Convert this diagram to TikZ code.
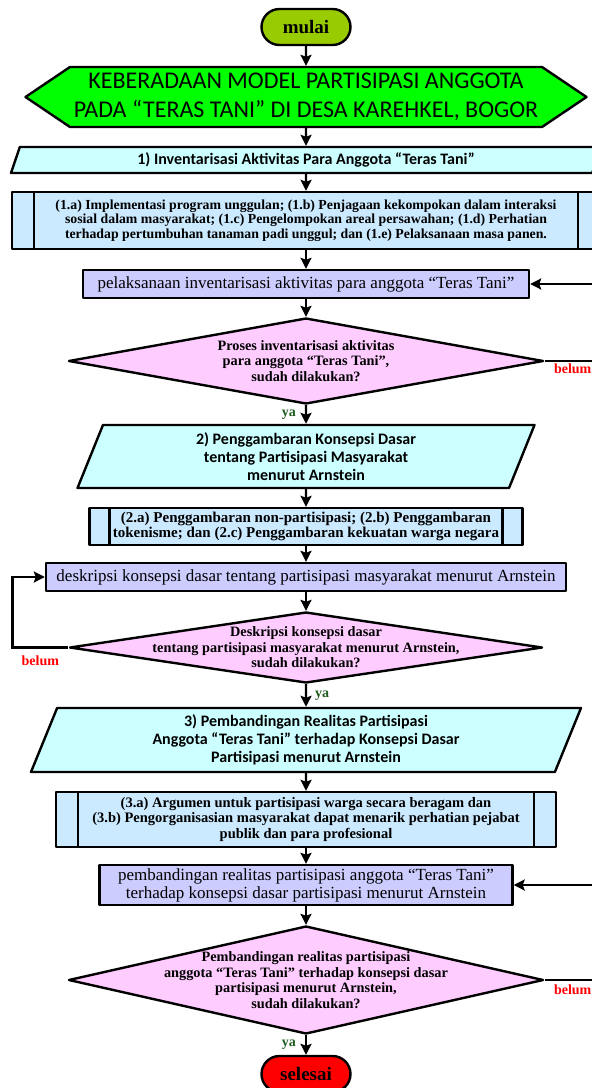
\documentclass[tikz,border=0pt]{standalone}
\usepackage{fontspec}
\setmainfont{Liberation Serif}
\newfontfamily\calibri{Carlito}
\usetikzlibrary{shapes.geometric, shapes.symbols, arrows.meta}
\definecolor{mulaihijau}{HTML}{99CC00}
\definecolor{judulhijau}{HTML}{00FF00}
\definecolor{langkahbiru}{HTML}{CCFFFF}
\definecolor{subbiru}{HTML}{CCEAFF}
\definecolor{prosesungu}{HTML}{CCCCFF}
\definecolor{tanyamerah}{HTML}{FFCCFF}
\definecolor{yahijau}{HTML}{1F5C1F}

\begin{document}
\begin{tikzpicture} [
			x=1pt, y=-1pt,
			garis/.style={draw, line width=2.4pt, line join=round},
			terminal/.style={garis, rectangle, rounded corners=18pt, minimum width=89pt, minimum height=36pt, inner sep=0pt, font=\fontsize{19}{22}\selectfont\bfseries},
			judul/.style={garis, signal, signal to=west and east, signal pointer angle=68, fill=judulhijau, minimum width=561pt, minimum height=60pt, inner sep=0pt, align=center, font=\calibri\fontsize{24}{29}\selectfont},
			langkah/.style={garis, trapezium, trapezium stretches body, fill=langkahbiru, inner sep=1pt, align=center, font=\calibri\bfseries\fontsize{16}{18}\selectfont},
			subproses/.style={garis, rectangle, fill=subbiru, inner sep=0pt, align=center, font=\bfseries\fontsize{13.8}{14.6}\selectfont,
				path picture={\draw[line width=2.4pt] ([xshift=#1]path picture bounding box.north west) -- ([xshift=#1]path picture bounding box.south west)
					([xshift=-#1]path picture bounding box.north east) -- ([xshift=-#1]path picture bounding box.south east);}},
			subproses/.default=22pt,
			proses/.style={garis, rectangle, fill=prosesungu, inner sep=0pt, align=center, font=\fontsize{17}{18}\selectfont},
			tanya/.style={garis, diamond, fill=tanyamerah, inner xsep=-80pt, inner ysep=-10pt, align=center, font=\bfseries\fontsize{14.3}{15.5}\selectfont},
			panah/.style={line width=2.4pt, -{Stealth[length=11pt, width=11pt, inset=2pt]}},
			belum/.style={text=red, font=\bfseries\fontsize{14}{16}\selectfont, inner sep=2pt},
			ya/.style={text=yahijau, font=\bfseries\fontsize{14}{16}\selectfont, inner sep=3pt}
		]
		\useasboundingbox (0,0) rectangle (592,1088);
		\clip (0,0) rectangle (592,1088);

		\node at (306,27)   [terminal, fill=mulaihijau] (mulai) {mulai};
		\node at (306,97)   [judul] (judul) {KEBERADAAN MODEL PARTISIPASI ANGGOTA\\PADA “TERAS TANI” DI DESA KAREHKEL, BOGOR};

		\node at (306,160)  [langkah, trapezium left angle=62, trapezium right angle=118, minimum width=590pt, minimum height=26pt] (langkah1) {1) Inventarisasi Aktivitas Para Anggota “Teras Tani”};
		\node at (306,220.5) [subproses, minimum width=588pt, minimum height=57pt] (sub1) {(1.a) Implementasi program unggulan; (1.b) Penjagaan kekompokan dalam interaksi\\sosial dalam masyarakat; (1.c) Pengelompokan areal persawahan; (1.d) Perhatian\\terhadap pertumbuhan tanaman padi unggul; dan (1.e) Pelaksanaan masa panen.};
		\node at (306,284)  [proses, minimum width=446pt, minimum height=28pt] (proses1) {pelaksanaan inventarisasi aktivitas para anggota “Teras Tani”};
		\node at (306,361)  [tanya, aspect=5.5, minimum width=475pt, minimum height=86pt] (tanya1) {Proses inventarisasi aktivitas\\para anggota “Teras Tani”,\\sudah dilakukan?};

		\node at (306,456.5) [langkah, trapezium left angle=63, trapezium right angle=117, minimum width=457pt, minimum height=63pt] (langkah2) {2) Penggambaran Konsepsi Dasar\\tentang Partisipasi Masyarakat\\menurut Arnstein};
		\node at (306,526.5) [subproses=20pt, minimum width=433pt, minimum height=37pt, font=\bfseries\fontsize{15}{15}\selectfont] (sub2) {(2.a) Penggambaran non-partisipasi; (2.b) Penggambaran\\tokenisme; dan (2.c) Penggambaran kekuatan warga negara};
		\node at (306,577)  [proses, minimum width=520pt, minimum height=28pt] (proses2) {deskripsi konsepsi dasar tentang partisipasi masyarakat menurut Arnstein};
		\node at (306,647.5) [tanya, aspect=6.6, minimum width=473pt, minimum height=71pt] (tanya2) {Deskripsi konsepsi dasar\\tentang partisipasi masyarakat menurut Arnstein,\\sudah dilakukan?};

		\node at (306,740)  [langkah, trapezium left angle=63.5, trapezium right angle=116.5, minimum width=550pt, minimum height=64pt] (langkah3) {3) Pembandingan Realitas Partisipasi\\Anggota “Teras Tani” terhadap Konsepsi Dasar\\Partisipasi menurut Arnstein};
		\node at (306,819.5) [subproses, minimum width=500pt, minimum height=55pt, font=\bfseries\fontsize{14.5}{15.5}\selectfont] (sub3) {(3.a) Argumen untuk partisipasi warga secara beragam dan\\(3.b) Pengorganisasian masyarakat dapat menarik perhatian pejabat\\publik dan para profesional};
		\node at (306,885)  [proses, minimum width=413pt, minimum height=40pt] (proses3) {pembandingan realitas partisipasi anggota “Teras Tani”\\terhadap konsepsi dasar partisipasi menurut Arnstein};
		\node at (306,980)  [tanya, aspect=4.4, minimum width=475pt, minimum height=108pt] (tanya3) {Pembandingan realitas partisipasi\\anggota “Teras Tani” terhadap konsepsi dasar\\partisipasi menurut Arnstein,\\sudah dilakukan?};
		\node at (306,1074) [terminal, fill=red] (selesai) {selesai};

		\draw [panah] (mulai) -- (judul);
		\draw [panah] (judul) -- (langkah1);
		\draw [panah] (langkah1) -- (sub1);
		\draw [panah] (sub1) -- (proses1);
		\draw [panah] (proses1) -- (tanya1);
		\draw [panah] (tanya1) -- (langkah2) node[midway, left, ya, inner xsep=9pt] {ya};
		\draw [panah] (tanya1.east) -- ++(56,0) node[midway, below, belum] {belum} |- (proses1.east);

		\draw [panah] (langkah2) -- (sub2);
		\draw [panah] (sub2) -- (proses2);
		\draw [panah] (proses2) -- (tanya2);
		\draw [panah] (tanya2) -- (langkah3) node[midway, right, ya, inner xsep=8pt] {ya};
		\draw [panah] (tanya2.west) -- ++(-56,0) node[midway, below, belum, inner ysep=7pt] {belum} |- (proses2.west);

		\draw [panah] (langkah3) -- (sub3);
		\draw [panah] (sub3) -- (proses3);
		\draw [panah] (proses3) -- (tanya3);
		\draw [panah] (tanya3) -- (selesai) node[midway, left, ya, inner xsep=9pt] {ya};
		\draw [panah] (tanya3.east) -- ++(56,0) node[midway, below, belum, inner ysep=4pt] {belum} |- (proses3.east);
	\end{tikzpicture}
\end{document}
